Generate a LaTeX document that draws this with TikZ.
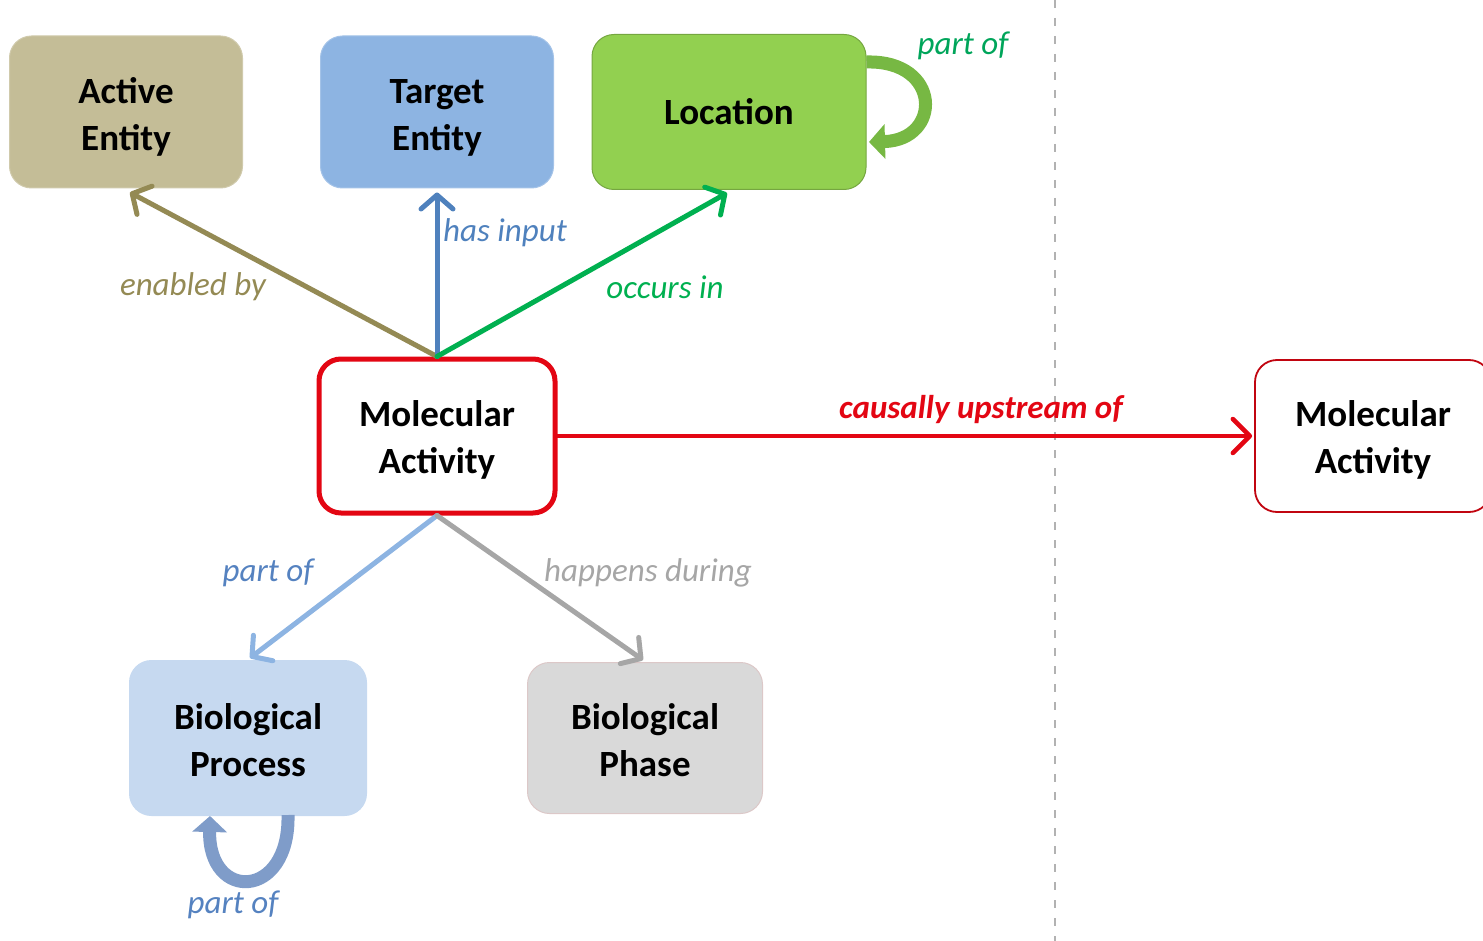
\documentclass[tikz,border=0pt]{standalone}
\usepackage{fontspec}
\setmainfont{Carlito}
\usetikzlibrary{arrows.meta}

\definecolor{tanfill}{HTML}{C4BD97}
\definecolor{targetfill}{HTML}{8DB4E2}
\definecolor{locfill}{HTML}{92D050}
\definecolor{bpfill}{HTML}{C6D9F0}
\definecolor{phasefill}{HTML}{D9D9D9}
\definecolor{olive}{HTML}{948A54}
\definecolor{inputblue}{HTML}{4F81BD}
\definecolor{occgreen}{HTML}{00B050}
\definecolor{causred}{HTML}{E30613}
\definecolor{partblue}{HTML}{8DB4E2}
\definecolor{partlabel}{HTML}{5582C0}
\definecolor{phasegray}{HTML}{A6A6A6}
\definecolor{looplocal}{HTML}{77B843}
\definecolor{loopbp}{HTML}{7F9CC9}
\definecolor{loclabel}{HTML}{00A55A}

\tikzset{
  entity/.style={rounded corners=22pt, minimum width=233pt, minimum height=152pt,
    align=center, inner sep=0pt, font=\fontsize{37}{47}\selectfont\bfseries},
  rel/.style={line width=5pt, line cap=round,
    -{Straight Barb[length=14pt,width=32pt,line cap=round,line join=round]}},
  rellabel/.style={font=\fontsize{33}{39}\selectfont\itshape, inner sep=0pt},
  loopline/.style={line width=13pt, -{Triangle[length=16pt,width=34pt]}}
}

\begin{document}
\begin{tikzpicture}[x=1pt,y=-1pt]
\useasboundingbox (0,0) rectangle (1483,941);

% separator between the two activities
\draw[gray!60, line width=1.6pt, dash pattern=on 8pt off 10pt] (1055,0) -- (1055,941);

% entity boxes
\node[entity, fill=tanfill, draw=tanfill!80!white, line width=1pt] (ae) at (126,112) {\strut\\[-44pt]Active\\Entity};
\node[entity, fill=targetfill, draw=targetfill!80!white, line width=1pt] (te) at (437,112) {\strut\\[-44pt]Target\\Entity};
\node[entity, fill=locfill, draw=locfill!80!black, line width=1pt, minimum width=274pt, minimum height=155pt] (loc) at (729,112) {Location};
\node[entity, fill=white, draw=causred, line width=5pt, minimum width=236pt, minimum height=154pt] (ma) at (437,436) {\strut\\[-46pt]Molecular\\Activity};
\node[entity, fill=white, draw=causred!85!black, line width=1.8pt, minimum width=236pt, minimum height=152pt] (mb) at (1373,436) {\strut\\[-46pt]Molecular\\Activity};
\node[entity, fill=bpfill, draw=bpfill, line width=1pt, minimum width=237pt, minimum height=155pt] (bp) at (248,738) {\strut\\[-50pt]Biological\\Process};
\node[entity, fill=phasefill, draw=phasefill!92!red, line width=1pt, minimum width=235pt, minimum height=151pt] (ph) at (645,738) {\strut\\[-50pt]Biological\\Phase};

% relations from the central activity
\draw[rel, olive] (ma.north) -- ([xshift=4pt,yshift=-4pt]ae.south);
\draw[rel, inputblue] (ma.north) -- ([yshift=-4pt]te.south);
\draw[rel, occgreen] (ma.north) -- ([xshift=-2pt,yshift=-3pt]loc.south);
\draw[rel, causred, line width=4.5pt, -{Straight Barb[length=17pt,width=34pt,line cap=round,line join=round]}] (ma.east) -- ([xshift=-2pt]mb.west);
\draw[rel, partblue] (ma.south) -- ([xshift=2pt,yshift=2pt]bp.north);
\draw[rel, phasegray] (ma.south) -- ([xshift=-2pt,yshift=2pt]ph.north);

% self loops
\coordinate (locA) at (loc.north east |- 0,62);
\coordinate (locB) at (869,142);
\draw[loopline, looplocal] (locA) .. controls (942,60) and (942,140) .. (locB);
\coordinate (bpA) at (288,815);
\coordinate (bpB) at (210,816);
\draw[loopline, loopbp] (bpA) .. controls (290,900) and (208,902) .. (bpB);

% relation labels
\node[rellabel, text=olive] (lab1) at (193,287) {enabled by};
\node[rellabel, text=inputblue] (lab2) at (505,233) {has input};
\node[rellabel, text=occgreen] (lab3) at (665,287) {occurs in};
\node[rellabel, text=causred, font=\fontsize{33}{39}\selectfont\bfseries\itshape] (lab4) at (981,410) {causally upstream of};
\node[rellabel, text=partlabel] (lab5) at (268,573) {part of};
\node[rellabel, text=phasegray] (lab6) at (648,573) {happens during};
\node[rellabel, text=loclabel] (lab7) at (963,46) {part of};
\node[rellabel, text=partlabel] (lab8) at (233,905) {part of};
\end{tikzpicture}
\end{document}
